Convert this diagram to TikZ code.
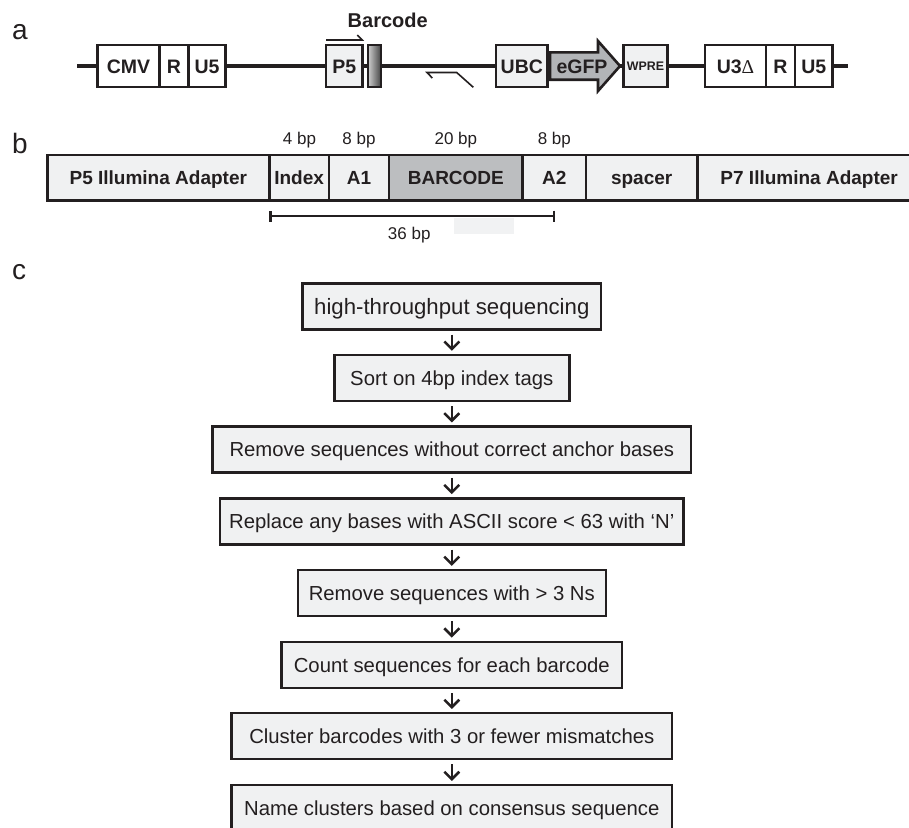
\documentclass[tikz,border=0pt]{standalone}
\usepackage{fontspec}
\setmainfont{Liberation Sans}
\newfontfamily\serifgreek{Liberation Serif}
\usetikzlibrary{arrows.meta}
\definecolor{ink}{HTML}{231F20}
\definecolor{lightfill}{HTML}{F0F1F2}
\definecolor{bcfill}{HTML}{BCBEC0}
\definecolor{gfpfill}{HTML}{B2B4B7}
\definecolor{ghost}{HTML}{F1F2F3}
\begin{document}
\begin{tikzpicture}[x=1pt,y=-1pt,
  panel/.style={font=\fontsize{28}{32}\selectfont, anchor=base west, text=ink, inner sep=0pt},
  abox/.style={draw=ink, fill=white, line width=2.6pt, minimum height=42pt, inner sep=0pt,
    text height=14pt, text depth=0pt, text=ink, font=\bfseries\fontsize{19.5}{23}\selectfont},
  lbox/.style={abox, fill=lightfill},
  bcell/.style={draw=ink, fill=lightfill, line width=2.6pt, minimum height=45.7pt, inner sep=0pt,
    text height=13.6pt, text depth=0pt, text=ink, font=\bfseries\fontsize{19}{22}\selectfont},
  bplabel/.style={anchor=base, inner sep=0pt, text=ink, font=\fontsize{17}{20}\selectfont},
  fbox/.style={draw=ink, fill=lightfill, line width=2.5pt, minimum height=46pt, inner sep=0pt,
    text height=14.5pt, text depth=0pt, text=ink, font=\fontsize{20.3}{24}\selectfont},
  farrow/.style={draw=ink, line width=2.5pt, -{Straight Barb[length=7.5pt,width=15pt]},
    shorten <=4pt, shorten >=3pt},
  primer/.style={draw=ink, line width=1.6pt, line join=miter},
  mainline/.style={draw=ink, line width=3.6pt}
]
\useasboundingbox (0,0) rectangle (909,827);
\clip (0,0) rectangle (909,827);

% panel labels
\node[panel] (la) at (12,39.3) {a};
\node[panel] (lb) at (12,153.3) {b};
\node[panel] (lc) at (12,279.3) {c};

% ---------------- part a ----------------
\coordinate (l0) at (77,66);
\coordinate (l1) at (848,66);
\draw[mainline] (l0) -- (l1);

\node[abox, minimum width=61.6pt] (cmv) at (128.5,66) {CMV};
\node[abox, minimum width=29pt] (ra) at (173.8,66) {R};
\node[abox, minimum width=37.4pt] (u5a) at (207,66) {U5};

\node[lbox, minimum width=36.7pt] (p5) at (344.35,66) {P5};
\node[draw=ink, line width=2.4pt, minimum width=13pt, minimum height=42pt, inner sep=0pt,
      left color=black!18, right color=black!72] (bcbar) at (374.2,66) {};
\node[anchor=base, inner sep=0pt, text=ink, font=\bfseries\fontsize{20}{24}\selectfont] (bclabel) at (387.7,27.3) {Barcode};

% forward primer
\coordinate (fp1) at (326,40);
\coordinate (fp2) at (362.3,40);
\coordinate (fp3) at (357.3,35);
\draw[primer] (fp1) -- (fp2) -- (fp3);
% reverse primer
\coordinate (rp0) at (432.3,78);
\coordinate (rp1) at (427,72.5);
\coordinate (rp2) at (456.7,72.5);
\coordinate (rp3) at (473.3,87.3);
\draw[primer] (rp0) -- (rp1) -- (rp2) -- (rp3);

\node[lbox, minimum width=51.7pt] (ubc) at (521.85,66) {UBC};
\draw[draw=ink, fill=gfpfill, line width=2.6pt, line join=miter]
  (550,52.3) -- (598,52.3) -- (598,41) -- (620,66) -- (598,91) -- (598,79.7) -- (550,79.7) -- cycle;
\node[inner sep=0pt, text height=14pt, text depth=0pt, text=ink, font=\bfseries\fontsize{19.5}{23}\selectfont] (egfp) at (582,66) {eGFP};
\node[lbox, minimum width=44.4pt, text height=9pt, font=\bfseries\fontsize{12.4}{14}\selectfont] (wpre) at (645.5,66) {WPRE};

\node[abox, minimum width=61pt] (u3) at (735.5,66) {U3{\serifgreek\mdseries Δ}};
\node[abox, minimum width=29pt] (rb) at (780.5,66) {R};
\node[abox, minimum width=37.7pt] (u5b) at (813.85,66) {U5};

% ---------------- part b ----------------
\node[bcell, minimum width=222pt] (p5ad) at (158.3,177.85) {P5 Illumina Adapter};
\node[bcell, minimum width=59.7pt] (idx) at (299.15,177.85) {Index};
\node[bcell, minimum width=60pt] (a1) at (359,177.85) {A1};
\node[bcell, fill=bcfill, minimum width=133.7pt] (bcd) at (455.85,177.85) {BARCODE};
\node[bcell, minimum width=63.3pt] (a2) at (554.35,177.85) {A2};
\node[bcell, minimum width=111.3pt] (spc) at (641.65,177.85) {spacer};
\node[bcell, minimum width=223.7pt] (p7ad) at (809.15,177.85) {P7 Illumina Adapter};

\node[bplabel] (bp4) at (299.5,144.3) {4 bp};
\node[bplabel] (bp8a) at (359,144.3) {8 bp};
\node[bplabel] (bp20) at (455.85,144.3) {20 bp};
\node[bplabel] (bp8b) at (554.35,144.3) {8 bp};

\fill[ghost] (454,217.5) rectangle (514,234);
\coordinate (s1) at (269.3,216);
\coordinate (s2) at (555.3,216);
\draw[draw=ink, line width=2.2pt, {Bar[width=11pt]}-{Bar[width=11pt]}] (s1) -- (s2);
\node[bplabel] (bp36) at (409.2,239.3) {36 bp};

% ---------------- part c ----------------
\node[fbox, minimum width=298.3pt, text height=16pt, font=\fontsize{22.2}{26}\selectfont] (f1) at (451.8,306.3) {high-throughput sequencing};
\node[fbox, minimum width=235pt]   (f2) at (451.8,378) {Sort on 4bp index tags};
\node[fbox, minimum width=478.7pt] (f3) at (451.8,449.7) {Remove sequences without correct anchor bases};
\node[fbox, minimum width=463.3pt] (f4) at (451.8,521.4) {Replace any bases with ASCII score < 63 with ‘N’};
\node[fbox, minimum width=308pt]   (f5) at (451.8,593.1) {Remove sequences with > 3 Ns};
\node[fbox, minimum width=340.7pt] (f6) at (451.8,664.8) {Count sequences for each barcode};
\node[fbox, minimum width=440.3pt] (f7) at (451.8,736.2) {Cluster barcodes with 3 or fewer mismatches};
\node[fbox, minimum width=440.3pt] (f8) at (451.8,808.2) {Name clusters based on consensus sequence};

\draw[farrow] (f1) -- (f2);
\draw[farrow] (f2) -- (f3);
\draw[farrow] (f3) -- (f4);
\draw[farrow] (f4) -- (f5);
\draw[farrow] (f5) -- (f6);
\draw[farrow] (f6) -- (f7);
\draw[farrow] (f7) -- (f8);
\end{tikzpicture}
\end{document}
